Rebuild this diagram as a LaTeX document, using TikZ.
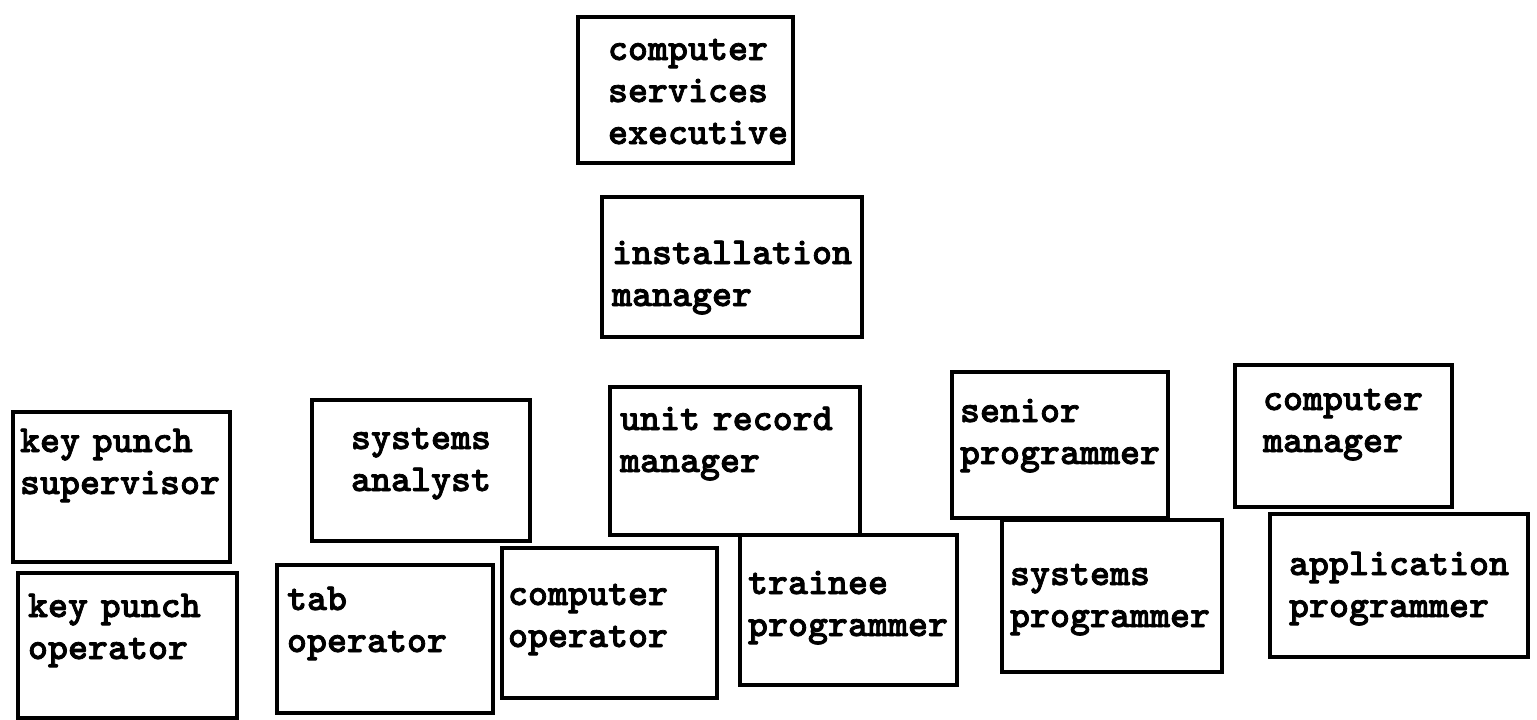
\documentclass[tikz,border=0pt]{standalone}
\usepackage{fontspec}
\newfontfamily\typewriter{lmmonolt10-bold.otf}[FakeBold=2]
\begin{document}
\begin{tikzpicture}[x=1pt, y=-1pt, main/.style = {draw, line width=4pt, anchor=north west, inner ysep=0pt, outer sep=0pt, align=left, font=\typewriter\fontsize{38.1}{42}\selectfont}]
            \useasboundingbox (0,0) rectangle (1537,720);
            % top of the chart
            \node[main, text width=155pt, inner xsep=30pt, text height=43pt, text depth=103pt] (exec) at (578,17) {computer\\services\\executive};
            \node[main, text width=240pt, inner xsep=10pt, text height=67pt, text depth=73pt] (inst) at (602,197) {installation\\manager};
            % middle row
            \node[main, text width=203pt, inner xsep=7pt, text height=40pt, text depth=110pt] (kps) at (13,412) {key punch\\supervisor};
            \node[main, text width=198pt, inner xsep=10pt, text height=49pt, text depth=92pt, align=center] (sa) at (312,400) {systems\\analyst};
            \node[main, text width=230pt, inner xsep=10pt, text height=43pt, text depth=105pt] (urm) at (610,387) {unit record\\manager};
            \node[main, text width=200pt, inner xsep=8pt, text height=50pt, text depth=96pt] (sp) at (952,372) {senior\\programmer};
            \node[main, text width=161pt, inner xsep=28pt, text height=45pt, text depth=97pt] (cm) at (1235,365) {computer\\manager};
            % bottom row
            \node[main, text width=199pt, inner xsep=10pt, text height=44pt, text depth=101pt] (kpo) at (18,573) {key punch\\operator};
            \node[main, text width=196pt, inner xsep=10pt, text height=45pt, text depth=103pt] (tab) at (277,565) {tab\\operator};
            \node[main, text width=203pt, inner xsep=6pt, text height=57pt, text depth=93pt] (co) at (502,548) {computer\\operator};
            \node[main, text width=201pt, inner xsep=8pt, text height=59pt, text depth=91pt] (tp) at (740,535) {trainee\\programmer};
            \node[main, text width=204pt, inner xsep=8pt, text height=65pt, text depth=87pt] (syp) at (1002,520) {systems\\programmer};
            \node[main, text width=220pt, inner xsep=19pt, text height=61pt, text depth=82pt] (ap) at (1270,514) {application\\programmer};
        \end{tikzpicture}
\end{document}
